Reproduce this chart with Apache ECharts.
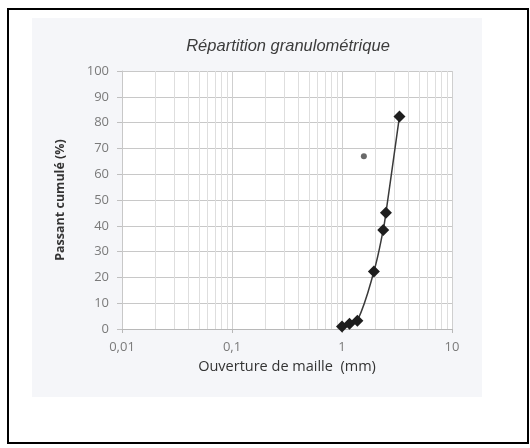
<!DOCTYPE html>
<html>
<head>
<meta charset="utf-8">
<script src="https://cdn.jsdelivr.net/npm/echarts@6/dist/echarts.min.js"></script>
<style>html,body{margin:0;padding:0;background:#fff}#c{width:530px;height:448px}</style>
</head>
<body>
<div id="c"></div>
<script>
// Data
const sieveSizes = [1, 1.17, 1.38, 1.95, 2.37, 2.51, 3.33];
const passing = [1, 2, 3.2, 22.3, 38.4, 45.1, 82.4];
const outlierSizes = [1.58];
const outlierPassing = [67];
const xTickValues = [0.01, 0.1, 1, 10];
const xTickLabels = ['0,01', '0,1', '1', '10'];
const yTickLabels = ['0','10','20','30','40','50','60','70','80','90','100'];
const minorGridValues = [0.02,0.03,0.04,0.05,0.06,0.07,0.08,0.09,
                         0.2,0.3,0.4,0.5,0.6,0.7,0.8,0.9,
                         2,3,4,5,6,7,8,9];

const chart = echarts.init(document.getElementById('c'));
const mainData = sieveSizes.map((s, i) => [s, passing[i]]);
const outData = outlierSizes.map((s, i) => [s, outlierPassing[i]]);

chart.setOption({
  animation: false,
  backgroundColor: '#ffffff',
  title: {
    text: 'Répartition granulométrique',
    left: 283, top: 33, textAlign: 'center',
    textStyle: {fontFamily: 'Liberation Sans', fontStyle: 'italic', fontWeight: 'normal', fontSize: 16.5, color: '#3c3c3c'}
  },
  graphic: [
    {type: 'rect', z: -10, silent: true, shape: {x: 32, y: 18, width: 450, height: 379}, style: {fill: '#f5f6f9'}},
    {type: 'rect', z: 100, silent: true, shape: {x: 8, y: 9, width: 520, height: 434}, style: {fill: 'none', stroke: '#000', lineWidth: 2}}
  ],
  grid: {left: 122, right: 78, top: 71, bottom: 119, show: true, backgroundColor: '#ffffff', borderWidth: 0},
  xAxis: {
    type: 'log', logBase: 10, min: 0.01, max: 10,
    name: 'Ouverture de maille  (mm)', nameLocation: 'middle', nameGap: 29,
    nameTextStyle: {fontFamily: 'Open Sans', fontSize: 14.5, color: '#333', fontWeight: 500},
    axisLine: {show: true, lineStyle: {color: '#b8b8b8', width: 1}},
    axisTick: {show: true, length: 4, lineStyle: {color: '#b8b8b8'}},
    axisLabel: {
      margin: 12, fontFamily: 'Open Sans', fontSize: 13, color: '#7a7a7a',
      formatter: function (v) {
        for (let i = 0; i < xTickValues.length; i++) {
          if (Math.abs(Math.log10(v) - Math.log10(xTickValues[i])) < 1e-6) return xTickLabels[i];
        }
        return '';
      }
    },
    splitLine: {show: true, lineStyle: {color: '#cfcfcf', width: 1}}
  },
  yAxis: {
    type: 'value', min: 0, max: 100, interval: 10,
    name: 'Passant cumulé (%)', nameLocation: 'middle', nameGap: 55,
    nameTextStyle: {fontFamily: 'Open Sans', fontSize: 12.5, color: '#333', fontWeight: 'bold'},
    axisLine: {show: true, lineStyle: {color: '#c8c8c8', width: 1}},
    axisTick: {show: true, length: 5, lineStyle: {color: '#c0c0c0'}},
    axisLabel: {
      margin: 13, fontFamily: 'Open Sans', fontSize: 13, color: '#7a7a7a',
      formatter: function (v) { return yTickLabels[Math.round(v / 10)]; }
    },
    splitLine: {show: true, lineStyle: {color: '#c8c8c8', width: 1}}
  },
  series: [
    {
      type: 'line', data: [], silent: true,
      markLine: {
        silent: true, symbol: 'none', label: {show: false},
        lineStyle: {color: '#dedede', width: 1, type: 'solid'},
        data: minorGridValues.map(v => ({xAxis: v}))
      }
    },
    {
      type: 'line', data: mainData, smooth: 0.4,
      symbol: 'diamond', symbolSize: 12,
      itemStyle: {color: '#1e1e1e'},
      lineStyle: {color: '#3a3a3a', width: 1.5},
      z: 5
    },
    {
      type: 'scatter', data: outData, symbol: 'circle', symbolSize: 6,
      itemStyle: {color: '#444'}, z: 5
    }
  ]
});
</script>
</body>
</html>
